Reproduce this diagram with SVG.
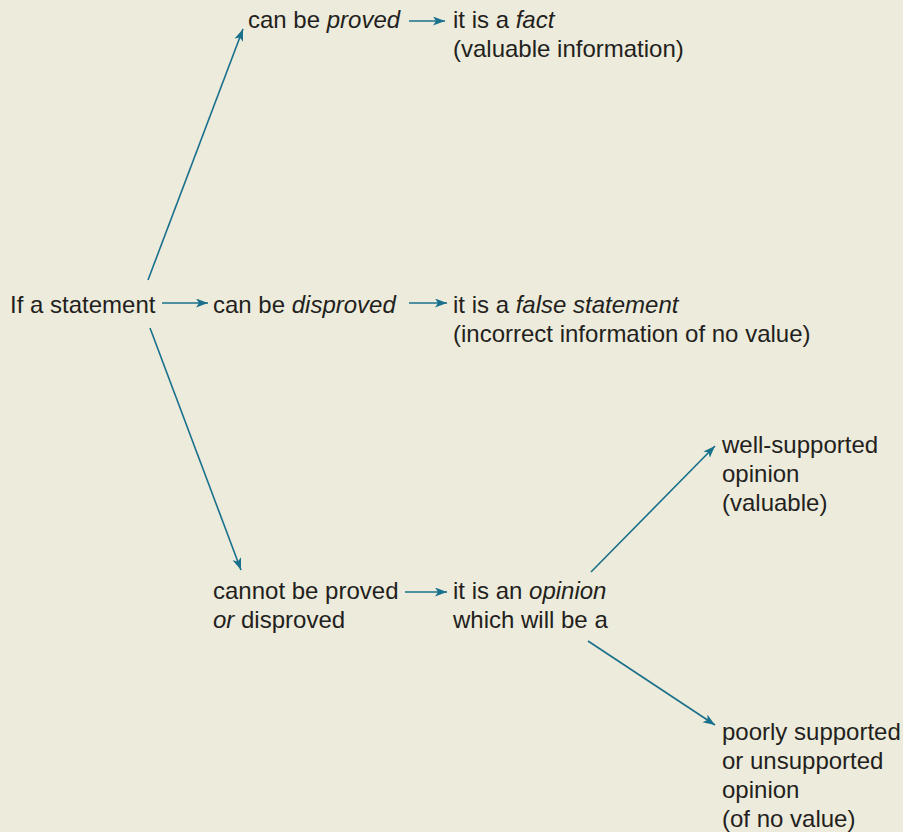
<svg xmlns="http://www.w3.org/2000/svg" width="903" height="832" viewBox="0 0 903 832">
<style>
text{font-family:"Liberation Sans",Arial,sans-serif;font-size:24px;fill:#231f20}
.i{font-style:italic}
.c{stroke:#19708c;stroke-width:1.6;fill:none;marker-end:url(#ah)}
</style>
<defs>
<marker id="ah" markerUnits="userSpaceOnUse" markerWidth="14" markerHeight="10" refX="12" refY="4.5" orient="auto">
<path d="M0,0 L12,4.5 L0,9 L3,4.5 z" fill="#19708c"/>
</marker>
</defs>
<rect width="903" height="832" fill="#edebdb"/>
<g id="connectors">
<line class="c" x1="148" y1="280" x2="243" y2="29"/>
<line class="c" x1="409" y1="21" x2="445" y2="21"/>
<line class="c" x1="162" y1="303" x2="208" y2="303"/>
<line class="c" x1="409" y1="303" x2="447" y2="303"/>
<line class="c" x1="150" y1="328" x2="241" y2="570"/>
<line class="c" x1="405" y1="592" x2="447" y2="592"/>
<line class="c" x1="591" y1="572" x2="715" y2="446"/>
<line class="c" x1="588" y1="641" x2="715" y2="725"/>
</g>
<g id="statement"><text x="10" y="313">If a statement</text></g>
<g id="proved"><text x="248" y="28">can be <tspan class="i">proved</tspan></text></g>
<g id="fact"><text x="453" y="28">it is a <tspan class="i">fact</tspan></text><text x="453" y="57">(valuable information)</text></g>
<g id="disproved"><text x="213" y="313">can be <tspan class="i">disproved</tspan></text></g>
<g id="false"><text x="453" y="313">it is a <tspan class="i">false statement</tspan></text><text x="453" y="342">(incorrect information of no value)</text></g>
<g id="cannot"><text x="213" y="599">cannot be proved</text><text x="213" y="628"><tspan class="i">or</tspan> disproved</text></g>
<g id="opinion"><text x="453" y="599">it is an <tspan class="i">opinion</tspan></text><text x="453" y="628">which will be a</text></g>
<g id="well"><text x="722" y="453">well-supported</text><text x="722" y="482">opinion</text><text x="722" y="511">(valuable)</text></g>
<g id="poorly"><text x="722" y="740">poorly supported</text><text x="722" y="769">or unsupported</text><text x="722" y="798">opinion</text><text x="722" y="827">(of no value)</text></g>
</svg>
